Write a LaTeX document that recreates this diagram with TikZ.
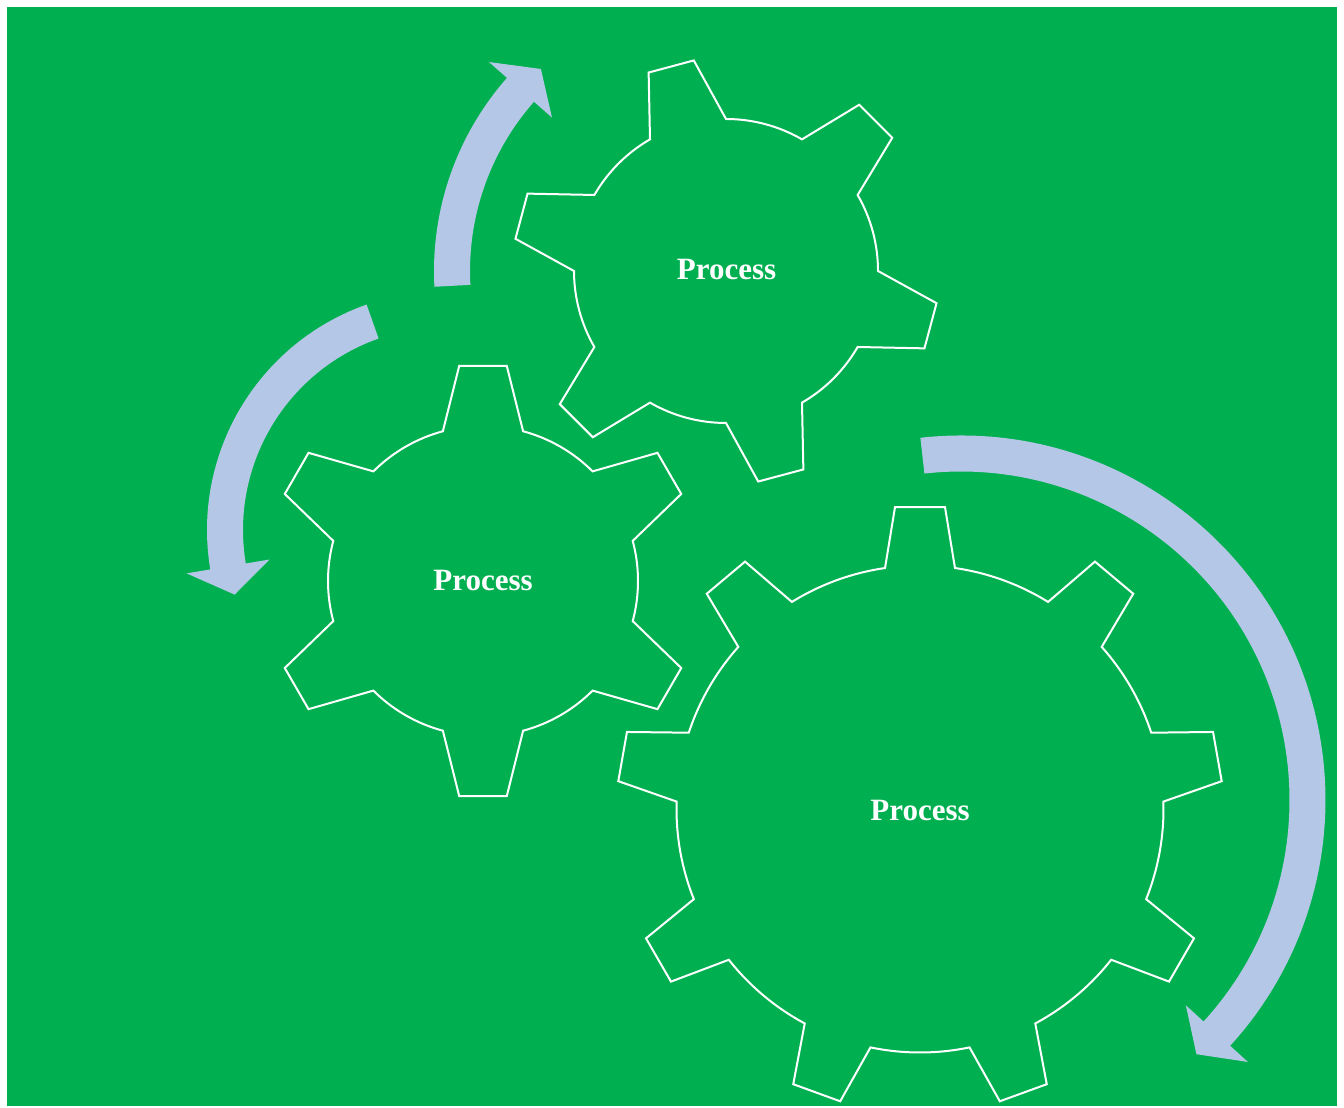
\documentclass[tikz,border=0pt]{standalone}
\usepackage{fontspec}
\setmainfont{Liberation Serif}
\definecolor{bggreen}{HTML}{00B050}
\definecolor{arrowblue}{HTML}{B4C7E7}
\tikzset{
  gearline/.style={draw=white, line width=2pt, fill=bggreen, line join=miter},
  ringarrowfill/.style={fill=arrowblue, draw=none},
  gearlabel/.style={text=white, font=\fontsize{31}{37}\selectfont\bfseries, inner sep=0pt}
}
% #1 center, #2 teeth, #3 first tooth angle, #4 root radius, #5 tip radius, #6 base half angle, #7 tip half angle
\newcommand\mygear[7]{%
  \begin{scope}[shift={(#1)}]
    \pgfmathsetmacro\gs{360/#2}
    \draw[gearline] ({#3-#6}:#4)
      \foreach \k in {1,...,#2} {
        -- ({#3+(\k-1)*\gs-#7}:#5) -- ({#3+(\k-1)*\gs+#7}:#5)
        -- ({#3+(\k-1)*\gs+#6}:#4)
        arc[start angle={#3+(\k-1)*\gs+#6}, end angle={#3+\k*\gs-#6}, radius=#4]
      } -- cycle;
  \end{scope}}
% #1 center, #2 mid radius, #3 half width, #4 head half width, #5 start angle, #6 head base angle, #7 tip angle
\newcommand\myringarrow[7]{%
  \begin{scope}[shift={(#1)}]
    \pgfmathsetmacro\ro{#2+#3}
    \pgfmathsetmacro\ri{#2-#3}
    \pgfmathsetmacro\ho{#2+#4}
    \pgfmathsetmacro\hi{#2-#4}
    \fill[ringarrowfill] (#5:\ro) arc[start angle=#5, end angle=#6, radius=\ro]
      -- (#6:\ho) -- (#7:#2) -- (#6:\hi) -- (#6:\ri)
      arc[start angle=#6, end angle=#5, radius=\ri] -- cycle;
  \end{scope}}
\begin{document}
\begin{tikzpicture}[x=1pt,y=1pt]
  \useasboundingbox (0,0) rectangle (1344,1108);
  \fill[white] (0,0) rectangle (1344,1108);
  \fill[bggreen] (7,2) rectangle (1337,1101);
  % gear centres
  \coordinate (g1) at (726,837);
  \coordinate (g2) at (483,527);
  \coordinate (g3) at (920,299);
  % gears
  \mygear{g1}{6}{105}{152}{213}{15}{6.3}
  \mygear{g2}{6}{90}{155}{216.5}{15}{6.3}
  \mygear{g3}{9}{90}{243.5}{303}{8.26}{4.73}
  % arrows
  \coordinate (a1) at (726,837);
  \coordinate (a2) at (446,578);
  \coordinate (a3) at (961,308);
  \myringarrow{a1}{274}{18}{42}{183.1}{138.6}{132.5}
  \myringarrow{a2}{221}{18}{42}{109.4}{189.5}{197}
  \myringarrow{a3}{346.5}{18}{42}{96.4}{-42.4}{-47.2}
  % labels
  \node[gearlabel] (t1) at (726.5,838) {Process};
  \node[gearlabel] (t2) at (483,527) {Process};
  \node[gearlabel] (t3) at (920,297) {Process};
\end{tikzpicture}
\end{document}
